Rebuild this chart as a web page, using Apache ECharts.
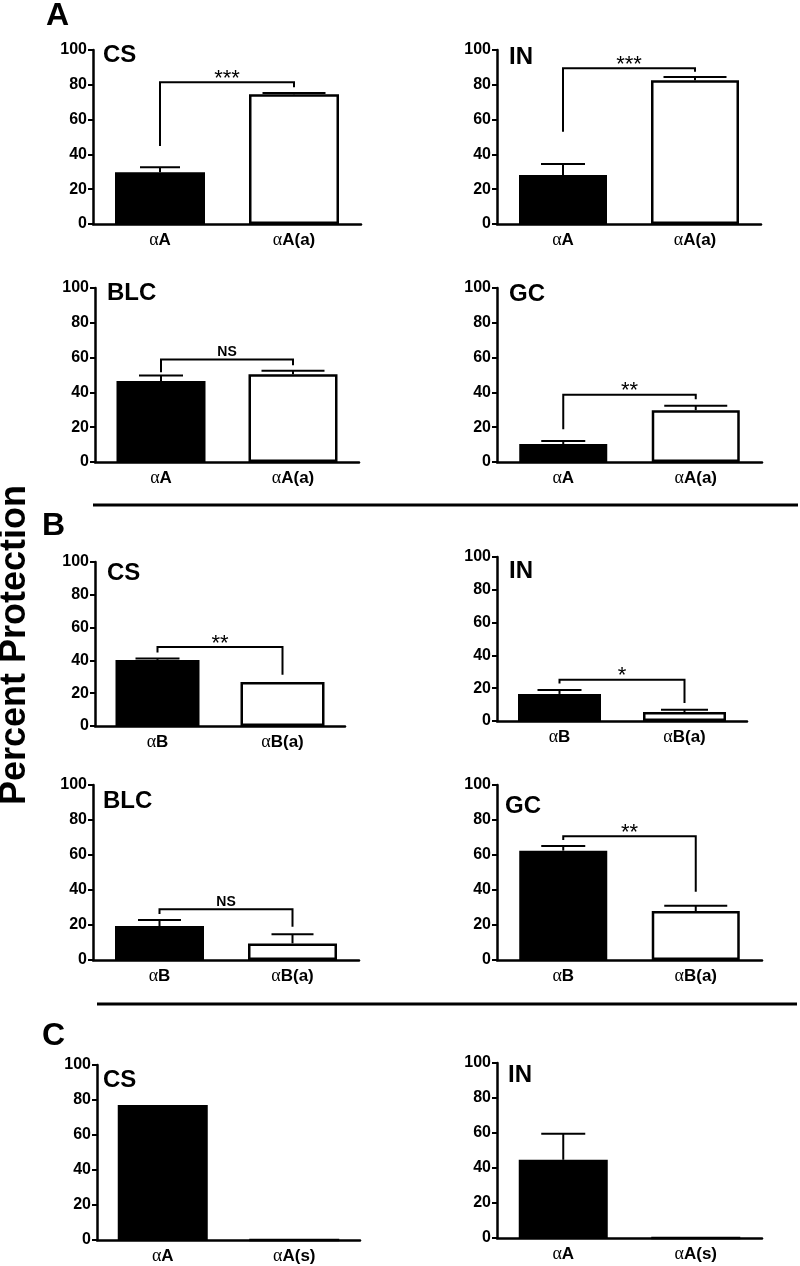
<!DOCTYPE html>
<html>
<head>
<meta charset="utf-8">
<script src="https://cdn.jsdelivr.net/npm/echarts@6/dist/echarts.min.js"></script>
<style>
html,body{margin:0;padding:0;background:#fff;}
#chart{width:800px;height:1266px;}
</style>
</head>
<body>
<div id="chart"></div>
<script>
// ---------- DATA ----------
const panelLetters = ['A', 'B', 'C'];
const yAxisTitle = 'Percent Protection';
const panelTitles = ['CS', 'IN', 'BLC', 'GC', 'CS', 'IN', 'BLC', 'GC', 'CS', 'IN'];
const categoriesA = ['αA', 'αA(a)'];
const categoriesB = ['αB', 'αB(a)'];
const categoriesC = ['αA', 'αA(s)'];
const panelCategories = [categoriesA, categoriesA, categoriesA, categoriesA,
                         categoriesB, categoriesB, categoriesB, categoriesB,
                         categoriesC, categoriesC];
const meanValues = [
  [29.7, 74.5], [28.2, 82.6], [46.6, 50.5], [10.3, 29.8],
  [40.3, 26.9], [16.5, 5.5], [19.4, 9.5], [62.5, 28.0],
  [77.1, 0], [44.7, 0]
];
const errorValues = [
  [2.9, 0.8], [6.3, 1.9], [3.1, 1.9], [1.7, 2.5],
  [0.8, 0], [2.4, 1.4], [3.5, 5.2], [2.6, 3.0],
  [0, 0], [14.9, 0]
];
// bracket: [left end, top, right end] in axis units
const brackets = [
  [44.8, 81.4, 78.6], [53.0, 89.5, 87.5], [51.6, 58.9, 55.6], [18.8, 38.6, 36.0],
  [44.8, 48.1, 31.2], [22.8, 25.2, 11.0], [26.3, 29.0, 19.0], [68.6, 70.7, 39.0],
  null, null
];
const significance = ['***', '***', 'NS', '**', '**', '*', 'NS', '**', '', ''];
const yMin = 0, yMax = 100, yStep = 20;

// ---------- LAYOUT ----------
const grids = [
  {left: 93, top: 50, width: 268, height: 174},
  {left: 497, top: 50, width: 264, height: 174},
  {left: 95, top: 288, width: 264, height: 174},
  {left: 497, top: 288, width: 265, height: 174},
  {left: 95, top: 562, width: 250, height: 164},
  {left: 497, top: 557, width: 250, height: 164},
  {left: 93, top: 785, width: 266, height: 175},
  {left: 497, top: 785, width: 265, height: 175},
  {left: 97, top: 1065, width: 263, height: 175},
  {left: 497, top: 1063, width: 265, height: 175}
];
const barWidths = [90, 88, 89, 88, 84, 83, 89, 88, 90, 89];
const capWidths = [[40, 63], [44, 63], [44, 63], [44, 63], [44, 60], [44, 47], [43, 42], [44, 63], [44, 44], [44, 44]];
const titlePos = [[103, 47], [509, 49], [107, 285], [509, 286], [107, 565], [509, 563], [103, 793], [505, 798], [103, 1072], [508, 1067]];
const letterPos = [[46, 5], [42, 515], [42, 1025]];

const FONT = '"Liberation Sans", Arial, Helvetica, sans-serif';
const chart = echarts.init(document.getElementById('chart'), null, {renderer: 'canvas'});

const option = {
  backgroundColor: '#ffffff',
  animation: false,
  grid: [], xAxis: [], yAxis: [], series: [], graphic: []
};

grids.forEach((g, i) => {
  option.grid.push(Object.assign({containLabel: false}, g));
  option.xAxis.push({
    type: 'category', gridIndex: i, data: panelCategories[i],
    axisLine: {lineStyle: {color: '#000', width: 2.5}},
    axisTick: {alignWithLabel: true, length: 5, lineStyle: {color: '#000', width: 2}},
    axisLabel: {
      margin: 7,
      formatter: v => '{g|α}{t|' + v.slice(1) + '}',
      rich: {
        g: {fontFamily: '"Liberation Serif", "Times New Roman", serif', fontSize: 18, color: '#000'},
        t: {fontFamily: FONT, fontWeight: 'bold', fontSize: 17, color: '#000'}
      }
    },
    splitLine: {show: false}
  });
  option.yAxis.push({
    type: 'value', gridIndex: i, min: yMin, max: yMax, interval: yStep,
    axisLine: {show: true, lineStyle: {color: '#000', width: 2.5}},
    axisTick: {show: true, length: 5, lineStyle: {color: '#000', width: 2}},
    axisLabel: {margin: 6, fontFamily: FONT, fontWeight: 'bold', fontSize: 16, color: '#000'},
    splitLine: {show: false}
  });
  option.series.push({
    type: 'bar', xAxisIndex: i, yAxisIndex: i, barWidth: barWidths[i],
    data: meanValues[i].map((v, k) => ({
      value: v,
      itemStyle: k === 0
        ? {color: '#000', borderColor: '#000', borderWidth: 2}
        : {color: '#fff', borderColor: '#000', borderWidth: 2.5}
    })),
    z: 2
  });
  option.series.push({
    type: 'custom', xAxisIndex: i, yAxisIndex: i, z: 3,
    encode: {x: 0, y: 1},
    data: meanValues[i].map((v, k) => [k, v, errorValues[i][k]]),
    renderItem: (params, api) => {
      const k = api.value(0), v = api.value(1), e = api.value(2);
      if (!(e > 0)) return {type: 'group', children: []};
      const p0 = api.coord([k, v]);
      const p1 = api.coord([k, v + e]);
      const half = capWidths[i][k] / 2;
      const st = {stroke: '#000', lineWidth: 2};
      return {type: 'group', children: [
        {type: 'line', shape: {x1: p0[0], y1: p0[1], x2: p1[0], y2: p1[1]}, style: st},
        {type: 'line', shape: {x1: p1[0] - half, y1: p1[1], x2: p1[0] + half, y2: p1[1]}, style: st}
      ]};
    }
  });
  if (brackets[i]) {
    option.series.push({
      type: 'custom', xAxisIndex: i, yAxisIndex: i, z: 4,
      encode: {x: 0, y: 2},
      data: [[0, brackets[i][0], brackets[i][1], brackets[i][2]]],
      renderItem: (params, api) => {
        const a = api.coord([0, api.value(1)]);
        const b = api.coord([0, api.value(2)]);
        const c = api.coord([1, api.value(2)]);
        const d = api.coord([1, api.value(3)]);
        const isNS = significance[i] === 'NS';
        return {type: 'group', children: [
          {type: 'polyline', shape: {points: [a, b, c, d]}, style: {stroke: '#000', lineWidth: 2, fill: null}},
          {type: 'text', x: (b[0] + c[0]) / 2, y: b[1] + (isNS ? -0.5 : 7.5),
           style: {text: significance[i], fill: '#000', textAlign: 'center', textVerticalAlign: 'bottom',
                   font: (isNS ? 'bold 14px ' : 'normal 22px ') + FONT}}
        ]};
      }
    });
  }
  option.graphic.push({
    type: 'text', x: titlePos[i][0], y: titlePos[i][1] - 4,
    style: {text: panelTitles[i], fill: '#000', font: 'bold 24px ' + FONT, textVerticalAlign: 'top'}
  });
});

panelLetters.forEach((t, j) => {
  option.graphic.push({
    type: 'text', x: letterPos[j][0], y: letterPos[j][1] - 5,
    style: {text: t, fill: '#000', font: 'bold 32px ' + FONT, textVerticalAlign: 'top'}
  });
});

option.graphic.push({
  type: 'text', x: 15, y: 645, rotation: Math.PI / 2,
  style: {text: yAxisTitle, fill: '#000', font: 'bold 36px ' + FONT, textAlign: 'center', textVerticalAlign: 'middle'}
});
option.graphic.push({type: 'line', shape: {x1: 93, y1: 505, x2: 798, y2: 505}, style: {stroke: '#000', lineWidth: 3}});
option.graphic.push({type: 'line', shape: {x1: 97, y1: 1004, x2: 797, y2: 1004}, style: {stroke: '#000', lineWidth: 3}});

chart.setOption(option);
</script>
</body>
</html>
